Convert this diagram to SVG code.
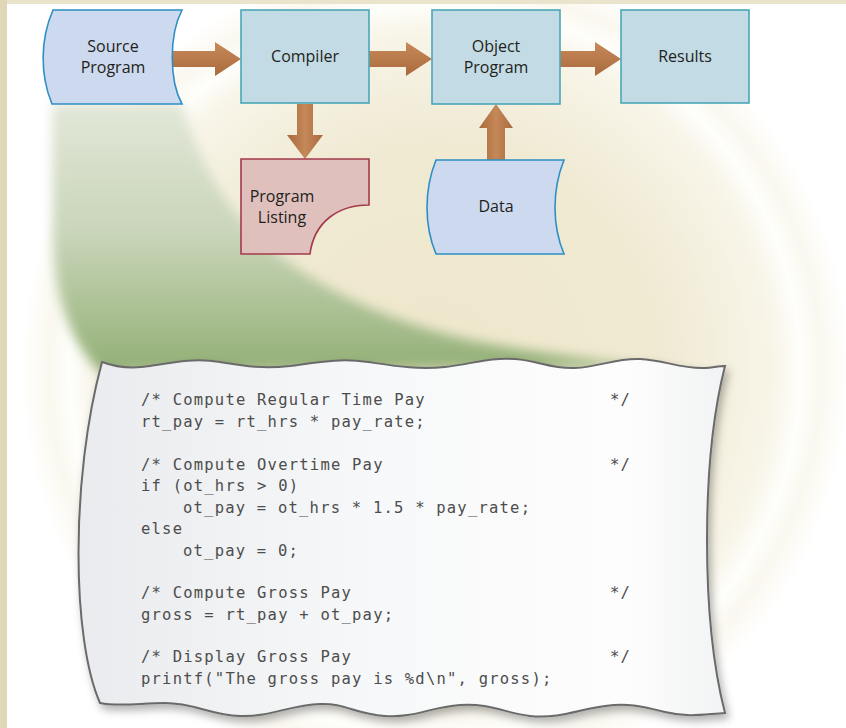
<svg xmlns="http://www.w3.org/2000/svg" width="846" height="728" viewBox="0 0 846 728">
  <defs>
    <radialGradient id="glow" cx="435" cy="370" r="415" gradientUnits="userSpaceOnUse">
      <stop offset="0" stop-color="#eee7cc"/>
      <stop offset="0.55" stop-color="#f0ead3"/>
      <stop offset="0.82" stop-color="#f8f5e9"/>
      <stop offset="0.88" stop-color="#fefefb"/>
      <stop offset="0.93" stop-color="#faf8ef"/>
      <stop offset="1" stop-color="#ffffff"/>
    </radialGradient>
    <linearGradient id="beamFill" x1="0" y1="103" x2="0" y2="365" gradientUnits="userSpaceOnUse">
      <stop offset="0" stop-color="#e2e7d8"/>
      <stop offset="0.5" stop-color="#c9d5b9"/>
      <stop offset="1" stop-color="#95b178"/>
    </linearGradient>
    <linearGradient id="pageFill" x1="80" y1="0" x2="725" y2="0" gradientUnits="userSpaceOnUse">
      <stop offset="0" stop-color="#e9ebee"/>
      <stop offset="0.45" stop-color="#f7f8f9"/>
      <stop offset="0.85" stop-color="#fdfdfd"/>
      <stop offset="1" stop-color="#f2f3f4"/>
    </linearGradient>
    <linearGradient id="arrowH" x1="0" y1="0" x2="0" y2="1">
      <stop offset="0" stop-color="#c88a5a"/>
      <stop offset="1" stop-color="#a9693d"/>
    </linearGradient>
    <linearGradient id="arrowV" x1="0" y1="0" x2="1" y2="0">
      <stop offset="0" stop-color="#a9693d"/>
      <stop offset="0.5" stop-color="#c58858"/>
      <stop offset="1" stop-color="#a9693d"/>
    </linearGradient>
    <filter id="soft" x="-20%" y="-20%" width="140%" height="140%">
      <feGaussianBlur stdDeviation="6"/>
    </filter>
    <filter id="shadow" x="-10%" y="-10%" width="120%" height="120%">
      <feDropShadow dx="3" dy="5" stdDeviation="4" flood-color="#000" flood-opacity="0.3"/>
    </filter>
  </defs>
  <style>
    .label { font-family: "Open Sans", "Noto Sans", sans-serif; font-size: 16px; fill: #231f20; text-anchor: middle; }
    .tape { fill: #cdd9ee; stroke: #2d8fc4; stroke-width: 1.6; }
    .box { fill: #c3dbe4; stroke: #4aa7b7; stroke-width: 1.6; }
    .doc { fill: #e0c0bd; stroke: #a33a4a; stroke-width: 1.6; }
    .arrowH { fill: url(#arrowH); }
    .arrowV { fill: url(#arrowV); }
    .code { font-family: "DejaVu Sans Mono", "Liberation Mono", monospace; font-size: 15.5px; letter-spacing: 1.22px; fill: #4d4d4d; }
  </style>

  <!-- backdrop -->
  <rect x="0" y="0" width="846" height="728" fill="#ffffff"/>
  <circle cx="435" cy="370" r="415" fill="url(#glow)"/>
  <rect x="0" y="0" width="846" height="4" fill="#ebe4cc"/>
  <rect x="0" y="0" width="7" height="728" fill="#e0d7b7"/>

  <!-- light beam from the source program down to the listing page -->
  <path id="beam" d="M52,103 L182,103 C195,150 215,190 250,230 C300,280 380,320 470,340 C540,354 600,360 640,366 L100,372 C70,340 55,300 53,240 Z" fill="url(#beamFill)" filter="url(#soft)"/>

  <!-- connectors -->
  <g id="connectors">
    <polygon class="arrowH" points="172,51 215,51 215,42 241,59 215,76 215,67 172,67"/>
    <polygon class="arrowH" points="369,51 406,51 406,42 432,59 406,76 406,67 369,67"/>
    <polygon class="arrowH" points="560,51 595,51 595,42 621,59 595,76 595,67 560,67"/>
    <polygon class="arrowV" points="297,104 313,104 313,135 323,135 305,159 287,135 297,135"/>
    <polygon class="arrowV" points="487,160 505,160 505,128 513,128 496,104 479,128 487,128"/>
  </g>

  <!-- nodes -->
  <g id="source-program">
    <path class="tape" d="M53,10 L182,10 C169,35 169,80 182,104 L52,104 C40,75 40,40 53,10 Z"/>
    <text class="label" x="113" y="52">Source</text>
    <text class="label" x="113" y="73">Program</text>
  </g>
  <g id="compiler">
    <rect class="box" x="241" y="10" width="128" height="93"/>
    <text class="label" x="305" y="62">Compiler</text>
  </g>
  <g id="object-program">
    <rect class="box" x="432" y="10" width="128" height="94"/>
    <text class="label" x="496" y="52">Object</text>
    <text class="label" x="496" y="73">Program</text>
  </g>
  <g id="results">
    <rect class="box" x="621" y="10" width="128" height="93"/>
    <text class="label" x="685" y="62">Results</text>
  </g>
  <g id="program-listing">
    <path class="doc" d="M241,159 H369 V205 C338,205 314,222 310,254 H241 Z"/>
    <text class="label" x="282" y="202">Program</text>
    <text class="label" x="282" y="223">Listing</text>
  </g>
  <g id="data">
    <path class="tape" d="M436,160 L564,160 C552,190 552,225 564,254 L436,254 C424,225 424,190 436,160 Z"/>
    <text class="label" x="496" y="212">Data</text>
  </g>

  <!-- source listing page -->
  <g id="listing-page">
    <path d="M102,362
             C118,368 132,369 150,366 C175,362 195,358 220,362 C245,366 262,369 290,366 C320,362 340,358 368,362
             C395,366 418,370 445,367 C472,364 490,357 515,359 C540,361 550,369 575,368 C600,367 615,358 640,359
             C665,360 680,369 705,368 C715,367 720,366 725,366
             C701,460 701,620 725,713
             C705,714 690,718 665,712 C640,706 628,703 605,706 C580,709 560,719 530,716 C505,713 490,703 460,705
             C430,707 415,718 385,716 C355,714 345,703 320,704 C290,705 270,717 240,716 C210,715 195,703 165,703
             C140,703 120,707 100,703
             C72,640 70,480 102,362 Z"
          fill="url(#pageFill)" stroke="#6b6b6b" stroke-width="2" filter="url(#shadow)"/>
    <text class="code" x="141" y="405">/* Compute Regular Time Pay</text>
    <text class="code" x="610" y="405">*/</text>
    <text class="code" x="141" y="427">rt_pay = rt_hrs * pay_rate;</text>
    <text class="code" x="141" y="470">/* Compute Overtime Pay</text>
    <text class="code" x="610" y="470">*/</text>
    <text class="code" x="141" y="491">if (ot_hrs &gt; 0)</text>
    <text class="code" x="183" y="513">ot_pay = ot_hrs * 1.5 * pay_rate;</text>
    <text class="code" x="141" y="534">else</text>
    <text class="code" x="183" y="556">ot_pay = 0;</text>
    <text class="code" x="141" y="598">/* Compute Gross Pay</text>
    <text class="code" x="610" y="598">*/</text>
    <text class="code" x="141" y="620">gross = rt_pay + ot_pay;</text>
    <text class="code" x="141" y="662">/* Display Gross Pay</text>
    <text class="code" x="610" y="662">*/</text>
    <text class="code" x="141" y="684">printf("The gross pay is %d\n", gross);</text>
  </g>
</svg>
